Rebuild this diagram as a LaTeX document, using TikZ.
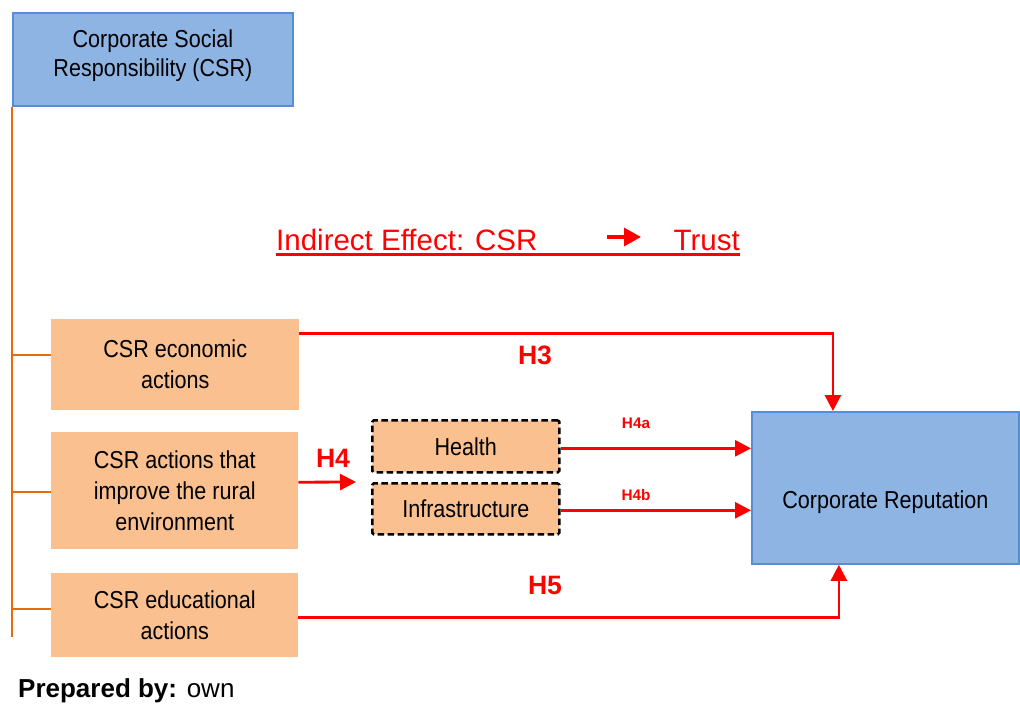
\documentclass[tikz,border=0pt]{standalone}
\usepackage{fontspec}
\setmainfont{Liberation Sans}
\newfontfamily\boxfont[FakeStretch=0.88]{Liberation Sans}
\usetikzlibrary{arrows.meta,calc}

\definecolor{csrblue}{HTML}{8EB4E3}
\definecolor{csrblueline}{HTML}{558ED5}
\definecolor{actfill}{HTML}{FAC090}
\definecolor{trunk}{HTML}{E46C0A}
\definecolor{hred}{HTML}{FF0000}

\tikzset{
  bluebox/.style={draw=csrblueline, line width=1.8pt, fill=csrblue, inner sep=0pt,
    anchor=north west, align=center, font=\boxfont\fontsize{24.5}{28.5}\selectfont},
  actbox/.style={fill=actfill, inner sep=0pt, anchor=north west, align=center,
    font=\boxfont\fontsize{24.5}{31}\selectfont},
  subbox/.style={actbox, draw=black, line width=2.6pt, dash pattern=on 6.5pt off 3.5pt,
    rounded corners=1.5pt},
  branch/.style={draw=trunk, line width=2.2pt},
  effect/.style={draw=hred, line width=2.8pt,
    -{Triangle[length=16pt,width=16pt]}},
  hlabel/.style={text=hred, inner sep=0pt, font=\bfseries\fontsize{26.6}{30}\selectfont},
  hsmall/.style={text=hred, inner sep=0pt, font=\bfseries\fontsize{15.3}{18}\selectfont},
  titletext/.style={text=hred, inner sep=0pt, font=\fontsize{29.5}{34}\selectfont},
}

\begin{document}
\begin{tikzpicture}[x=1pt,y=-1pt]
\useasboundingbox (0,0) rectangle (1020,704);

% main construct and its three dimensions
\node[bluebox, minimum width=280pt, minimum height=93pt] (csr) at (12,12)
  {\raisebox{11.8pt}[0pt][0pt]{\begin{tabular}[t]{@{}c@{}}Corporate Social\\Responsibility (CSR)\end{tabular}}};
\node[actbox, minimum width=248pt, minimum height=91pt] (econ) at (51,319)
  {CSR economic\\actions};
\node[actbox, minimum width=247pt, minimum height=117pt] (rural) at (51,432)
  {CSR actions that\\improve the rural\\environment};
\node[actbox, minimum width=247pt, minimum height=84pt] (edu) at (51,573)
  {CSR educational\\actions};

% rural sub-dimensions
\node[subbox, minimum width=187pt, minimum height=52pt] (health) at (371,419) {Health};
\node[subbox, minimum width=187pt, minimum height=51pt] (infra) at (371,482) {Infrastructure};

% outcome
\node[bluebox, minimum width=267pt, minimum height=152pt] (rep) at (751,411)
  {\raisebox{-21pt}[0pt][0pt]{Corporate Reputation}};

% orange trunk with branches
\coordinate (trunkend) at (12,637);
\draw[branch] (csr.south west) -- (trunkend);
\draw[branch] ([yshift=9.5pt]econ.west) -- ([yshift=9.5pt]econ.west -| csr.west);
\draw[branch] ([yshift=-1.5pt]rural.west) -- ([yshift=-1.5pt]rural.west -| csr.west);
\draw[branch] ([yshift=6pt]edu.west) -- ([yshift=6pt]edu.west -| csr.west);

% hypothesised effects
\draw[effect] ([yshift=31.5pt]econ.east) -| ([xshift=-52.5pt]rep.north);
\draw[effect] ([yshift=-2pt]edu.east) -| ([xshift=-46.5pt]rep.south);
\coordinate (h4tip) at (356,482);
\draw[effect] ([yshift=8.5pt]rural.east) -- (h4tip);
\draw[effect] ([yshift=-2pt]health.east) -- ([yshift=-2pt]health.east -| rep.west);
\draw[effect] ([yshift=-1.5pt]infra.east) -- ([yshift=-1.5pt]infra.east -| rep.west);

% hypothesis labels
\node[hlabel] (lh3) at (535,355) {H3};
\node[hlabel] (lh4) at (333,458) {H4};
\node[hlabel] (lh5) at (545,585) {H5};
\node[hsmall] (lh4a) at (636,423) {H4a};
\node[hsmall] (lh4b) at (636,495) {H4b};

% underlined heading
\node[titletext, anchor=base west] (ttl) at (276,250) {Indirect Effect: CSR};
\node[titletext, anchor=base east] (trust) at (740,250) {Trust};
\draw[hred, line width=3pt] ([yshift=-4pt]ttl.base west) -- ([yshift=-4pt]trust.base east);
\coordinate (ar1) at (607,237);
\coordinate (ar2) at (641,237);
\draw[hred, line width=3.2pt, -{Triangle[length=17pt,width=18pt]}] (ar1) -- (ar2);

% source note
\node[anchor=base west, inner sep=0pt, font=\fontsize{26}{30}\selectfont] (src) at (18,697)
  {\textbf{Prepared by:} own};
\end{tikzpicture}
\end{document}
